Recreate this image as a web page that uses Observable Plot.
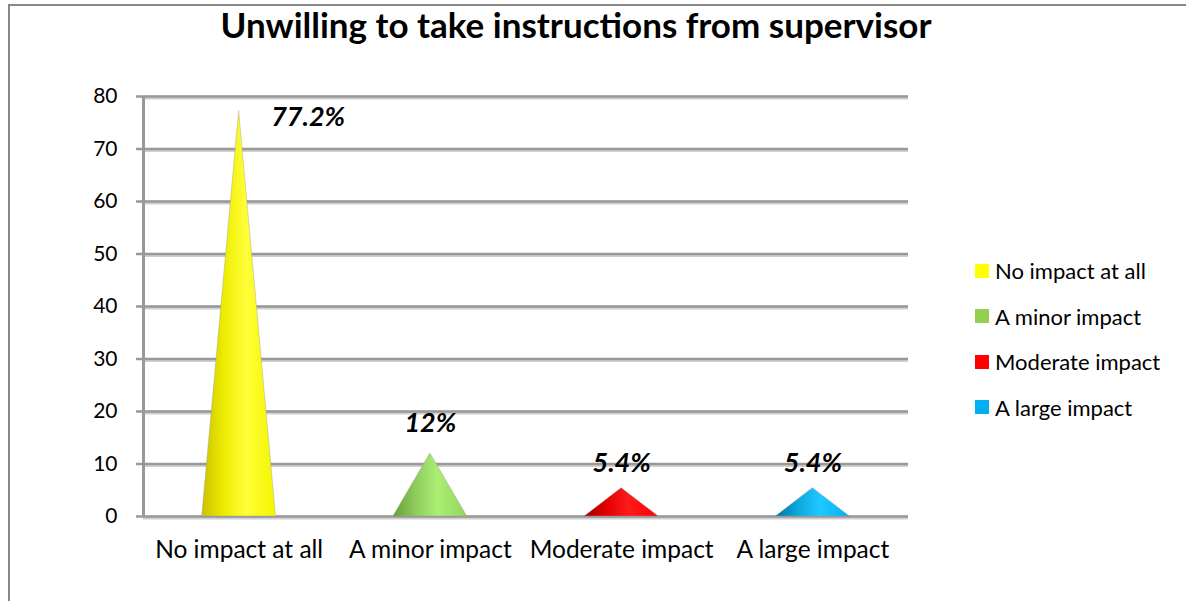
<!DOCTYPE html>
<html>
<head>
<meta charset="utf-8">
<script src="https://cdn.jsdelivr.net/npm/d3@7"></script>
<script src="https://cdn.jsdelivr.net/npm/@observablehq/plot@0.6"></script>
<style>
  html, body { margin: 0; padding: 0; background: #fff; width: 1186px; height: 601px; overflow: hidden; }
  #frame { position: absolute; left: 8px; top: 4px; width: 1200px; height: 700px;
           border-left: 2px solid #878787; border-top: 2px solid #878787; }
  #title { position: absolute; left: 0; top: 3px; width: 1152px; text-align: center; line-height: normal;
           font-family: Lato, sans-serif; font-weight: bold; font-size: 35px; color: #000; }
  #chart { position: absolute; left: 0; top: 70px; }
  #legend { position: absolute; left: 975px; top: 248px; font-family: Lato, sans-serif; font-size: 22px; color: #000; }
  .li { height: 45.5px; display: flex; align-items: center; white-space: nowrap; }
  .li span.sw { display: inline-block; width: 14px; height: 14px; margin-right: 6px; }
</style>
</head>
<body>
<div id="frame"></div>
<div id="title">Unwilling to take instructions from supervisor</div>
<div id="chart"></div>
<div id="legend"></div>
<script>
const categories = ["No impact at all", "A minor impact", "Moderate impact", "A large impact"];
const values = [77.2, 12, 5.4, 5.4];
const valueLabels = ["77.2%", "12%", "5.4%", "5.4%"];
const colors = ["#ffff00", "#92d050", "#ff0000", "#00b0f0"];
const yTicks = [0, 10, 20, 30, 40, 50, 60, 70, 80];

// gradient stops per colour (darker left edge, light centre)
const gradients = [
  ["#ccc000", "#eeec00", "#ffff38", "#f4f400"],
  ["#66a232", "#8ecb5c", "#aaee74", "#94d65a"],
  ["#a80000", "#e20000", "#ff1a1a", "#ff0000"],
  ["#0074a4", "#0aa8de", "#20c8ff", "#00b4f2"]
];

const halfWidth = 0.193;
const data = categories.map((c, i) => ({ i, category: c, value: values[i], label: valueLabels[i] }));

const defsMark = () => {
  const ns = "http://www.w3.org/2000/svg";
  const defs = document.createElementNS(ns, "defs");
  gradients.forEach((stops, k) => {
    const g = document.createElementNS(ns, "linearGradient");
    g.setAttribute("id", "cone" + k);
    g.setAttribute("x1", "0"); g.setAttribute("x2", "1");
    g.setAttribute("y1", "0"); g.setAttribute("y2", "0");
    const offs = [0, 0.3, 0.6, 1];
    stops.forEach((s, j) => {
      const st = document.createElementNS(ns, "stop");
      st.setAttribute("offset", offs[j]);
      st.setAttribute("stop-color", s);
      g.appendChild(st);
    });
    defs.appendChild(g);
  });
  return defs;
};

const coneMarks = data.map(d =>
  Plot.areaY(
    [{ x: d.i - halfWidth, y: 0 }, { x: d.i, y: d.value }, { x: d.i + halfWidth, y: 0 }],
    { x: "x", y: "y", fill: `url(#cone${d.i})`, stroke: "#9a9a9a", strokeOpacity: 0.5, strokeWidth: 0.8 }
  )
);

const plot = Plot.plot({
  width: 930,
  height: 531,
  marginTop: 26,
  marginBottom: 85,
  marginLeft: 143,
  marginRight: 22,
  style: { fontFamily: "Lato, sans-serif", color: "#000", background: "transparent" },
  x: { type: "linear", domain: [-0.5, categories.length - 0.5] },
  y: { domain: [0, 80] },
  marks: [
    defsMark,
    Plot.ruleY(yTicks, { stroke: "#d0d0d0", strokeWidth: 4, dy: 1 }),
    Plot.ruleY(yTicks, { stroke: "#999999", strokeWidth: 2.5 }),
    Plot.ruleX([-0.5], { y1: 0, y2: 80, stroke: "#999999", strokeWidth: 3 }),
    Plot.axisY({ ticks: yTicks, tickSize: 7, tickPadding: 19, stroke: "#999999", strokeWidth: 2.5, fill: "#000", fontSize: 21, label: null }),
    Plot.axisX({ ticks: d3.range(categories.length), tickFormat: i => categories[i], tickSize: 0, tickPadding: 24, fontSize: 24.5, label: null, fill: "#000" }),
    ...coneMarks,
    Plot.text(data.filter(d => d.value >= 70), { x: "i", y: "value", text: "label", dx: 69, dy: 6,
      fontSize: 27, fontWeight: "bold", fontStyle: "italic", fill: "#000" }),
    Plot.text(data.filter(d => d.value < 70), { x: "i", y: d => d.value * 1.15 + 4, text: "label",
      fontSize: 27, fontWeight: "bold", fontStyle: "italic", fill: "#000" })
  ]
});
document.getElementById("chart").appendChild(plot);

const legend = document.getElementById("legend");
categories.forEach((c, i) => {
  const row = document.createElement("div");
  row.className = "li";
  const sw = document.createElement("span");
  sw.className = "sw";
  sw.style.background = colors[i];
  const t = document.createElement("span");
  t.textContent = c;
  row.appendChild(sw);
  row.appendChild(t);
  legend.appendChild(row);
});
</script>
</body>
</html>
